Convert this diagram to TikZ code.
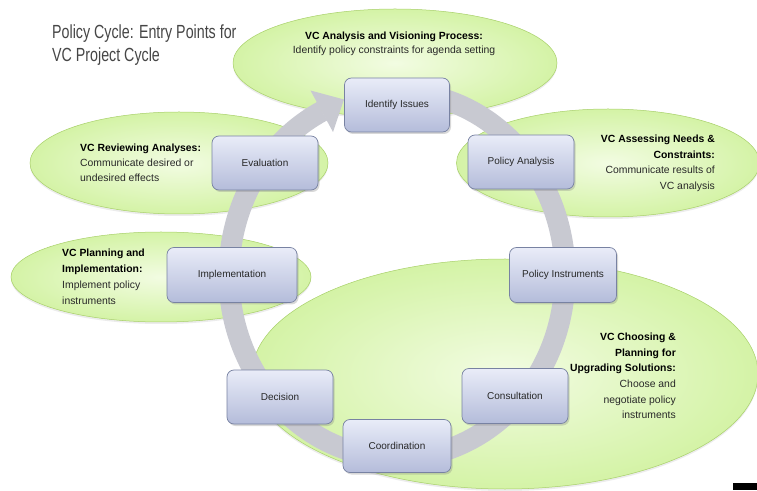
\documentclass[tikz,border=0pt]{standalone}
\usepackage{fontspec}
\setmainfont{Liberation Sans}
\newfontfamily\titlefont[FakeStretch=0.75]{Liberation Sans}
\usetikzlibrary{shapes.geometric,shadows}
\definecolor{ellin}{RGB}{242,252,226}
\definecolor{ellout}{RGB}{212,243,166}
\definecolor{elldraw}{RGB}{168,208,105}
\definecolor{boxtop}{RGB}{233,236,248}
\definecolor{boxbot}{RGB}{180,188,218}
\definecolor{boxdraw}{RGB}{120,130,162}
\definecolor{ringcol}{RGB}{200,201,209}
\definecolor{titlecol}{RGB}{70,70,70}
\definecolor{txtcol}{RGB}{40,40,40}
\begin{document}
\begin{tikzpicture}[x=1pt,y=1pt,
  ellnode/.style={ellipse, inner sep=0pt, draw=elldraw, line width=0.5pt,
    inner color=ellin, outer color=ellout,
    drop shadow={opacity=0.15, shadow xshift=0pt, shadow yshift=-2pt}},
  stepbox/.style={rectangle, rounded corners=7pt, draw=boxdraw, line width=0.7pt,
    top color=boxtop, bottom color=boxbot, inner sep=0pt,
    minimum width=106pt, minimum height=54pt,
    font=\fontsize{10}{12}\selectfont, text=txtcol,
    drop shadow={opacity=0.3, shadow xshift=1.5pt, shadow yshift=-2pt}},
  elltext/.style={inner sep=0pt, text=txtcol},
  ringline/.style={draw=ringcol, line width=21pt}
]
\useasboundingbox (0,0) rectangle (757,490);
\fill[white] (0,0) rectangle (757,490);

% green ellipses
\node[ellnode, minimum width=324pt, minimum height=108pt] (eTop) at (395,427) {};
\node[ellnode, minimum width=298pt, minimum height=102pt] (eRev) at (179,327) {};
\node[ellnode, minimum width=303pt, minimum height=108pt] (eAss) at (608,327) {};
\node[ellnode, minimum width=300pt, minimum height=90pt] (ePlan) at (161,213) {};
\node[ellnode, minimum width=506pt, minimum height=230pt] (eCho) at (505,116) {};

% gray ring arrow
\coordinate (rc) at (397,215);
\draw[ringline] (rc) ++(80:168pt and 183pt)
  arc[start angle=80, end angle=-243.5, x radius=168pt, y radius=183pt] coordinate (abase);
\fill[ringcol] (310.5,399.5) -- (344,390.5) -- (333,358) -- cycle;

% process boxes
\node[stepbox, minimum width=105pt] (ii) at (397,385) {Identify Issues};
\node[stepbox] (ev) at (265,327) {Evaluation};
\node[stepbox] (pa) at (521,328) {Policy Analysis};
\node[stepbox, minimum width=130pt, minimum height=55pt] (im) at (232,215) {Implementation};
\node[stepbox, minimum width=107pt, minimum height=55pt] (pi) at (563,215) {Policy Instruments};
\node[stepbox] (de) at (280,93) {Decision};
\node[stepbox, minimum height=55pt] (cn) at (515,94) {Consultation};
\node[stepbox, minimum width=108pt, minimum height=53pt] (cd) at (397,44) {Coordination};

% title
\node[anchor=north west, inner sep=0pt, align=left, text=titlecol,
  font=\titlefont\fontsize{19}{22.5}\selectfont] (title) at (52,465)
  {Policy Cycle: Entry Points for\\VC Project Cycle};

% ellipse texts
\node[elltext, align=center, font=\fontsize{10.4}{14}\selectfont] (tTop) at (394,446)
  {\textcolor{black}{\bfseries VC Analysis and Visioning Process:}\\Identify policy constraints for agenda setting};
\node[elltext, anchor=west, align=left, font=\fontsize{10.4}{15}\selectfont] (tRev) at (80,327)
  {\textcolor{black}{\bfseries VC Reviewing Analyses:}\\Communicate desired or\\undesired effects};
\node[elltext, anchor=east, align=right, font=\fontsize{10.4}{15.5}\selectfont] (tAss) at (715,326.5)
  {\textcolor{black}{\bfseries VC Assessing Needs \&}\\\textcolor{black}{\bfseries Constraints:}\\Communicate results of\\VC analysis};
\node[elltext, anchor=west, align=left, font=\fontsize{10.4}{16}\selectfont] (tPlan) at (62,213)
  {\textcolor{black}{\bfseries VC Planning and}\\\textcolor{black}{\bfseries Implementation:}\\Implement policy\\instruments};
\node[elltext, anchor=east, align=right, font=\fontsize{10.4}{15.6}\selectfont] (tCho) at (676,114)
  {\textcolor{black}{\bfseries VC Choosing \&}\\\textcolor{black}{\bfseries Planning for}\\\textcolor{black}{\bfseries Upgrading Solutions:}\\Choose and\\negotiate policy\\instruments};

% corner mark
\fill[black] (733,0) rectangle (757,7);
\end{tikzpicture}
\end{document}
